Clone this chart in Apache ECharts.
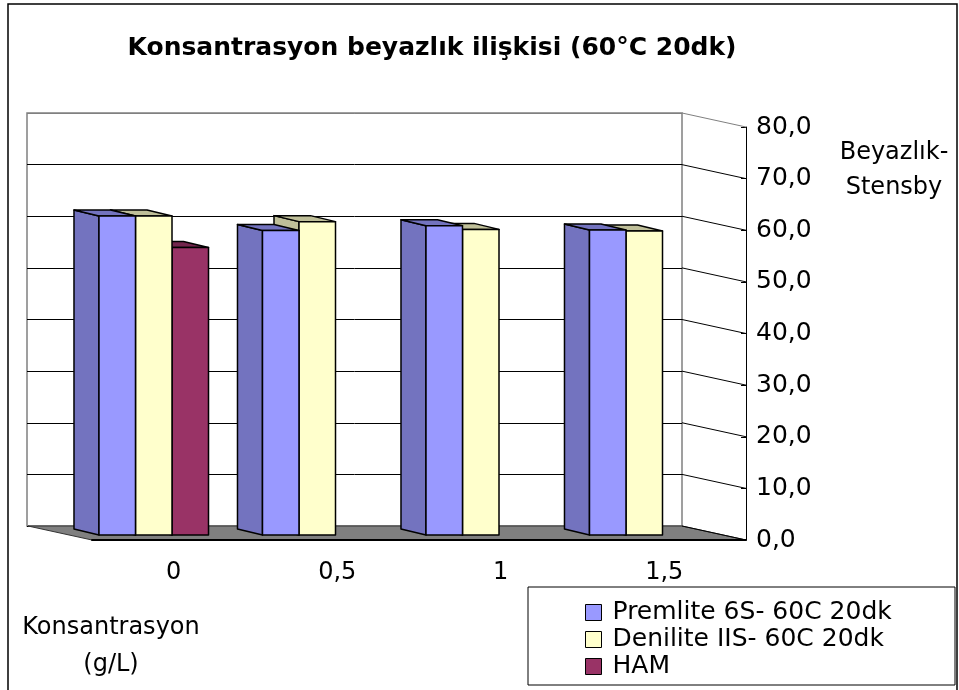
<!DOCTYPE html>
<html>
<head>
<meta charset="utf-8">
<title>Konsantrasyon beyazlık ilişkisi</title>
<script src="https://cdn.jsdelivr.net/npm/echarts@6/dist/echarts.min.js"></script>
<style>
  html, body { margin: 0; padding: 0; background: #fff; }
  #chart { width: 959px; height: 690px; }
</style>
</head>
<body>
<div id="chart"></div>
<script>
// kategoriler ve ölçümler (beyazlık - Stensby)
const categories = ['0', '0,5', '1', '1,5']
const premlite = [61.8, 59.0, 59.9, 59.1]
const denilite = [61.8, 60.7, 59.2, 58.9]
const ham = [55.7, null, null, null]
const yTicks = [0, 10, 20, 30, 40, 50, 60, 70, 80]

const FONT = 'DejaVu Sans'
// 3B görünüm kaydırmaları (piksel)
const WALL = [-64, -14]
const BAR_SHIFT = [-20, -5]
const BAR_DEPTH = [-25, -6]

const chart = echarts.init(document.getElementById('chart'))

const pairs = (arr) => arr.map((v, i) => [i, v])

function barRenderer (slot, colors) {
  return function (params, api) {
    const v = api.value(1)
    if (v == null || isNaN(v)) return null
    const idx = api.value(0)
    const top = api.coord([idx, v])
    const base = api.coord([idx, 0])
    const w = api.size([1, 0])[0] * 0.2233
    const x0 = top[0] + BAR_SHIFT[0] + (slot - 1.5) * w
    const yT = top[1] + BAR_SHIFT[1]
    const yB = base[1] + BAR_SHIFT[1]
    const dx = BAR_DEPTH[0]
    const dy = BAR_DEPTH[1]
    const edge = { stroke: '#000', lineWidth: 1.5, lineJoin: 'round' }
    return {
      type: 'group',
      children: [
        { type: 'polygon', shape: { points: [[x0, yT], [x0 + dx, yT + dy], [x0 + dx, yB + dy], [x0, yB]] }, style: Object.assign({ fill: colors[1] }, edge) },
        { type: 'polygon', shape: { points: [[x0, yT], [x0 + w, yT], [x0 + w + dx, yT + dy], [x0 + dx, yT + dy]] }, style: Object.assign({ fill: colors[2] }, edge) },
        { type: 'rect', shape: { x: x0, y: yT, width: w, height: yB - yT }, style: Object.assign({ fill: colors[0] }, edge) }
      ]
    }
  }
}

function frameRenderer (params, api) {
  const v = api.value(1)
  const half = api.size([1, 0])[0] / 2
  const fr = api.coord([categories.length - 1, v])
  fr[0] += half
  const children = []
  if (v === 0) {
    const fl = api.coord([0, 0])
    fl[0] -= half
    children.push({
      type: 'polygon',
      shape: { points: [fl, fr, [fr[0] + WALL[0], fr[1] + WALL[1]], [fl[0] + WALL[0], fl[1] + WALL[1]]] },
      style: { fill: '#808080', stroke: '#333', lineWidth: 1 }
    })
  }
  children.push({
    type: 'line',
    shape: { x1: fr[0] + WALL[0], y1: fr[1] + WALL[1], x2: fr[0], y2: fr[1] },
    style: { stroke: v === 80 ? '#808080' : '#000', lineWidth: 1 }
  })
  return { type: 'group', children }
}

const option = {
  animation: false,
  backgroundColor: '#fff',
  textStyle: { fontFamily: FONT },
  graphic: [
    { type: 'rect', shape: { x: 8, y: 4, width: 949, height: 700 }, style: { fill: null, stroke: '#000', lineWidth: 1.5 }, z: 0 },
    { type: 'rect', shape: { x: 528, y: 587, width: 427, height: 98 }, style: { fill: '#fff', stroke: '#000', lineWidth: 1 }, z: 0 },
    { type: 'text', x: 432, y: 48, style: { text: 'Konsantrasyon beyazlık ilişkisi (60°C 20dk)', fontFamily: FONT, fontSize: 25, fontWeight: 'bold', fill: '#000', textAlign: 'center', textVerticalAlign: 'middle' } },
    { type: 'text', x: 894, y: 170, style: { text: 'Beyazlık-\nStensby', fontFamily: FONT, fontSize: 24, lineHeight: 35, fill: '#000', textAlign: 'center', textVerticalAlign: 'middle' } },
    { type: 'text', x: 111, y: 646, style: { text: 'Konsantrasyon\n(g/L)', fontFamily: FONT, fontSize: 24, lineHeight: 37, fill: '#000', textAlign: 'center', textVerticalAlign: 'middle' } }
  ],
  legend: {
    data: ['Premlite 6S- 60C 20dk', 'Denilite IIS- 60C 20dk', 'HAM'],
    orient: 'vertical',
    left: 580,
    top: 595,
    icon: 'rect',
    itemWidth: 16,
    itemHeight: 16,
    itemGap: 2,
    itemStyle: { borderColor: '#000', borderWidth: 1 },
    textStyle: { fontFamily: FONT, fontSize: 25, color: '#000', padding: [0, 0, 0, 6] }
  },
  grid: [
    // arka duvar
    { left: 27, top: 113, width: 655, height: 413, show: true, backgroundColor: '#fff', borderColor: '#808080', borderWidth: 1.5 },
    // ön düzlem
    { left: 92, top: 127, width: 654, height: 413 }
  ],
  xAxis: [
    { type: 'category', gridIndex: 0, data: categories, show: false },
    {
      type: 'category', gridIndex: 1, data: categories, z: 5,
      axisLine: { lineStyle: { color: '#000', width: 2 } },
      axisTick: { length: 8, lineStyle: { color: '#000' } },
      axisLabel: { fontFamily: FONT, fontSize: 24, color: '#000', margin: 21 }
    }
  ],
  yAxis: [
    {
      type: 'value', gridIndex: 0, min: 0, max: 80, interval: 10,
      axisLine: { show: false }, axisTick: { show: false }, axisLabel: { show: false },
      splitLine: { lineStyle: { color: ['#000', '#000', '#000', '#000', '#000', '#000', '#000', '#000', '#808080'], width: 1 } }
    },
    {
      type: 'value', gridIndex: 1, position: 'right', min: 0, max: 80, interval: 10,
      axisLine: { show: true, lineStyle: { color: '#000', width: 1 } },
      axisTick: { show: true, inside: true, length: 5, lineStyle: { color: '#000' } },
      axisLabel: { fontFamily: FONT, fontSize: 25, color: '#000', margin: 10, formatter: (v) => v.toFixed(1).replace('.', ',') },
      splitLine: { show: false }
    }
  ],
  series: [
    {
      type: 'custom', name: 'frame', xAxisIndex: 1, yAxisIndex: 1, z: 1, silent: true,
      data: yTicks.map((v) => [0, v]),
      renderItem: frameRenderer
    },
    {
      type: 'custom', name: 'Premlite 6S- 60C 20dk', xAxisIndex: 1, yAxisIndex: 1, z: 4,
      itemStyle: { color: '#9999FF' },
      data: pairs(premlite),
      renderItem: barRenderer(0, ['#9999FF', '#7373BF', '#7373BF'])
    },
    {
      type: 'custom', name: 'Denilite IIS- 60C 20dk', xAxisIndex: 1, yAxisIndex: 1, z: 3,
      itemStyle: { color: '#FFFFCC' },
      data: pairs(denilite),
      renderItem: barRenderer(1, ['#FFFFCC', '#BFBF99', '#BFBF99'])
    },
    {
      type: 'custom', name: 'HAM', xAxisIndex: 1, yAxisIndex: 1, z: 2,
      itemStyle: { color: '#993366' },
      data: pairs(ham),
      renderItem: barRenderer(2, ['#993366', '#73264D', '#73264D'])
    }
  ]
}

chart.setOption(option)

window.addEventListener('resize', () => {
  chart.resize()
})
</script>
</body>
</html>
